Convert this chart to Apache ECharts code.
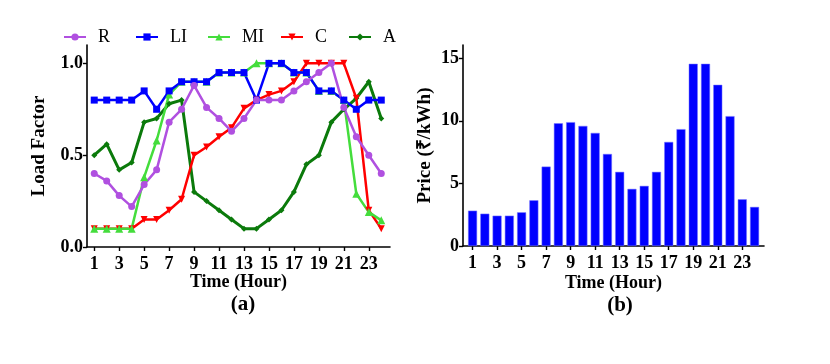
<!DOCTYPE html>
<html>
<head>
<meta charset="utf-8">
<script src="https://cdn.jsdelivr.net/npm/echarts@6/dist/echarts.min.js"></script>
<style>
	html, body { margin: 0; padding: 0; background: #fff; }
	#chart-box { width: 830px; height: 364px; }
</style>
</head>
<body>
<div id="chart-box"></div>
<script>
	var hours = [1, 2, 3, 4, 5, 6, 7, 8, 9, 10, 11, 12, 13, 14, 15, 16, 17, 18, 19, 20, 21, 22, 23, 24];
	var tickHours = [1, 3, 5, 7, 9, 11, 13, 15, 17, 19, 21, 23];

	// load factors, panel (a)
	var loadR  = [0.40, 0.36, 0.28, 0.22, 0.34, 0.42, 0.68, 0.75, 0.88, 0.76, 0.70, 0.63, 0.70, 0.80, 0.80, 0.80, 0.85, 0.90, 0.95, 1.00, 0.76, 0.60, 0.50, 0.40];
	var loadLI = [0.80, 0.80, 0.80, 0.80, 0.85, 0.75, 0.85, 0.90, 0.90, 0.90, 0.95, 0.95, 0.95, 0.80, 1.00, 1.00, 0.95, 0.95, 0.85, 0.85, 0.80, 0.75, 0.80, 0.80];
	var loadMI = [0.10, 0.10, 0.10, 0.10, 0.38, 0.58, 0.83, 0.90, 0.90, 0.90, 0.95, 0.95, 0.95, 1.00, 1.00, 1.00, 0.95, 0.95, 0.85, 0.85, 0.80, 0.29, 0.19, 0.145];
	var loadC  = [0.10, 0.10, 0.10, 0.10, 0.15, 0.15, 0.20, 0.26, 0.50, 0.545, 0.60, 0.65, 0.755, 0.80, 0.83, 0.85, 0.90, 1.00, 1.00, 1.00, 1.00, 0.81, 0.20, 0.10];
	var loadA  = [0.50, 0.56, 0.42, 0.46, 0.68, 0.70, 0.78, 0.80, 0.30, 0.25, 0.20, 0.15, 0.10, 0.10, 0.15, 0.20, 0.30, 0.45, 0.50, 0.68, 0.75, 0.81, 0.90, 0.70];

	// price, panel (b)
	var price = [2.82, 2.58, 2.42, 2.42, 2.69, 3.65, 6.34, 9.80, 9.89, 9.59, 9.03, 7.35, 5.92, 4.56, 4.80, 5.92, 8.31, 9.33, 14.55, 14.55, 12.87, 10.37, 3.73, 3.12];

	var font = "Liberation Serif";

	function pairs(ys) {
		return hours.map(function (h, i) {
			return [h, ys[i]];
		});
	}

	function lineSeries(name, ys, color, symbol, size, width, extra) {
		var s = {
			name: name,
			type: "line",
			xAxisIndex: 0,
			yAxisIndex: 0,
			data: pairs(ys),
			symbol: symbol,
			symbolSize: size,
			lineStyle: { color: color, width: width },
			itemStyle: { color: color },
			emphasis: { disabled: true }
		};
		if (extra) {
			for (var k in extra) s[k] = extra[k];
		}
		return s;
	}

	function legendAt(name, left) {
		return {
			data: [name],
			left: left,
			top: 28,
			padding: 0,
			itemWidth: 22,
			itemHeight: 9,
			textStyle: {
				fontFamily: font,
				fontSize: 18,
				color: "#000",
				padding: [0, 0, 0, 7]
			}
		};
	}

	var axisLine = { show: true, lineStyle: { color: "#000", width: 1.6 } };
	var tickLine = { color: "#000", width: 1.4 };
	var labelStyle = { fontFamily: font, fontWeight: "bold", fontSize: 18, color: "#000" };
	var nameStyle = { fontFamily: font, fontWeight: "bold", fontSize: 18, color: "#000" };

	var chart = echarts.init(document.getElementById("chart-box"));
	var option = {
		animation: false,
		backgroundColor: "#fff",
		title: [
			{ text: "(a)", left: 238, top: 289, textAlign: "center", textStyle: { fontFamily: font, fontWeight: "bold", fontSize: 21, color: "#000" } },
			{ text: "(b)", left: 615, top: 290, textAlign: "center", textStyle: { fontFamily: font, fontWeight: "bold", fontSize: 21, color: "#000" } }
		],
		legend: [
			legendAt("R", 63),
			legendAt("LI", 135),
			legendAt("MI", 207),
			legendAt("C", 280),
			legendAt("A", 348)
		],
		grid: [
			{ left: 87, top: 45, width: 303, height: 202 },
			{ left: 463, top: 45, width: 301, height: 201 }
		],
		xAxis: [
			{
				gridIndex: 0,
				type: "value",
				min: 0.42,
				max: 24.7,
				name: "Time (Hour)",
				nameLocation: "middle",
				nameGap: 26,
				nameMoveOverlap: false,
				nameTextStyle: nameStyle,
				axisLine: axisLine,
				axisTick: { show: true, length: 4, customValues: tickHours, lineStyle: tickLine },
				axisLabel: { customValues: tickHours, margin: 8, textStyle: labelStyle },
				splitLine: { show: false }
			},
			{
				gridIndex: 1,
				type: "value",
				min: 0.22,
				max: 24.77,
				name: "Time (Hour)",
				nameLocation: "middle",
				nameGap: 28,
				nameMoveOverlap: false,
				nameTextStyle: nameStyle,
				axisLine: axisLine,
				axisTick: { show: true, length: 4, customValues: tickHours, lineStyle: tickLine },
				axisLabel: { customValues: tickHours, margin: 8, textStyle: labelStyle },
				splitLine: { show: false }
			}
		],
		yAxis: [
			{
				gridIndex: 0,
				type: "value",
				min: 0,
				max: 1.1,
				name: "Load Factor",
				nameLocation: "middle",
				nameGap: 38,
				nameMoveOverlap: false,
				nameTextStyle: { fontFamily: font, fontWeight: "bold", fontSize: 19, color: "#000" },
				axisLine: axisLine,
				axisTick: { show: true, length: 4, customValues: [0, 0.5, 1], lineStyle: tickLine },
				axisLabel: {
					customValues: [0, 0.5, 1],
					margin: 4,
					textStyle: labelStyle,
					formatter: function (v) { return v.toFixed(1); }
				},
				splitLine: { show: false }
			},
			{
				gridIndex: 1,
				type: "value",
				min: 0,
				max: 16.05,
				name: "Price (₹/kWh)",
				nameLocation: "middle",
				nameGap: 28,
				nameMoveOverlap: false,
				nameTextStyle: { fontFamily: font, fontWeight: "bold", fontSize: 19, color: "#000" },
				axisLine: axisLine,
				axisTick: { show: true, length: 4, customValues: [0, 5, 10, 15], lineStyle: tickLine },
				axisLabel: { customValues: [0, 5, 10, 15], margin: 4, textStyle: labelStyle },
				splitLine: { show: false }
			}
		],
		series: [
			lineSeries("A", loadA, "#0b7a0b", "diamond", 6, 3),
			lineSeries("C", loadC, "#ff0000", "triangle", 7, 2.5, { symbolRotate: 180 }),
			lineSeries("MI", loadMI, "#44dd3c", "triangle", 8, 2.5),
			lineSeries("LI", loadLI, "#0000ff", "rect", 7, 2.5),
			lineSeries("R", loadR, "#b050e0", "circle", 7, 2.5),
			{
				name: "Price",
				type: "bar",
				xAxisIndex: 1,
				yAxisIndex: 1,
				data: pairs(price),
				barWidth: 9,
				itemStyle: { color: "#0000ff", borderColor: "#7777ff", borderWidth: 0.5 },
				emphasis: { disabled: true }
			}
		]
	};

	chart.setOption(option);
</script>
</body>
</html>
